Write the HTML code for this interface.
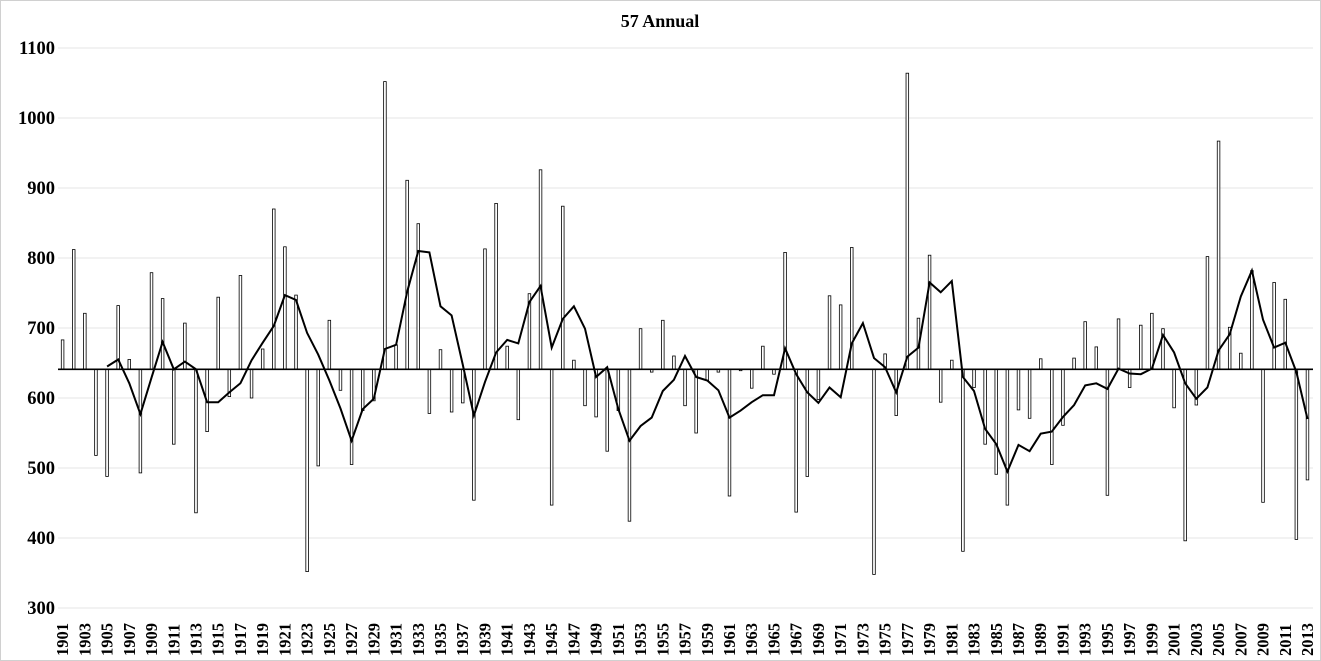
<!DOCTYPE html>
<html><head><meta charset="utf-8"><style>
body{margin:0;background:#fff}
svg{display:block}
text{font-family:"Liberation Serif",serif;font-weight:bold;fill:#000}
</style></head><body>
<svg id="s" width="1321" height="661" xmlns="http://www.w3.org/2000/svg"></svg>
<script>
const bars=[683,812,721,518,488,732,655,493,779,742,534,707,436,552,744,602,775,600,670,870,816,747,352,503,711,611,505,582,596,1052,676,911,849,578,669,
580,593,454,813,878,674,569,749,926,447,874,654,589,573,524,582,424,699,637,711,660,589,550,625,637,460,639,614,674,634,808,437,488,598,746,733,815,641,348,663,
575,1064,714,804,594,654,381,615,534,491,447,583,571,656,505,561,657,709,673,461,713,615,704,721,699,586,396,590,802,967,701,664,782,451,765,741,398,483];
const line={1905:645,1906:655,1907:621,1908:577,1909:629,1910:680,1911:641,1912:652,1913:641,1914:594,1915:594,1916:608,1917:621,1918:654,1919:679,1920:703,1921:747,1922:740,1923:693,1924:662,1925:625,1926:585,1927:539,1928:584,1929:599,1930:670,1931:676,1932:752,1933:810,1934:808,1935:731,
1936:718,1937:648,1938:575,1939:623,1940:665,1941:683,1942:678,1943:737,1944:760,1945:672,1946:713,1947:731,1948:699,1949:630,1950:644,1951:584,1952:539,1953:560,1954:572,1955:610,1956:626,1957:660,1958:630,1959:625,1960:611,1961:572,1962:582,1963:594,1964:604,1965:604,1966:671,1967:634,1968:608,1969:593,1970:615,1971:601,1972:678,1973:707,1974:657,1975:644,
1976:608,1977:659,1978:672,1979:765,1980:751,1981:767,1982:630,1983:610,1984:556,1985:534,1986:495,1987:533,1988:524,1989:549,1990:552,1991:573,1992:590,1993:618,1994:621,1995:613,1996:642,1997:635,1998:634,1999:642,2000:690,2001:665,2002:621,2003:599,2004:615,2005:668,2006:691,2007:745,2008:782,2009:712,2010:672,2011:679,2012:637,2013:570};
const Y=v=>48+(1100-v)*0.7, X=i=>62.6+i*11.115, base=641;
let h='<rect x="0.5" y="0.5" width="1320" height="660" fill="#fff" stroke="#d0d0d0"/>';
h+='<text x="660" y="27" font-size="18" text-anchor="middle">57 Annual</text>';
for(let v=300;v<=1100;v+=100){const y=Y(v);h+=`<line x1="58" x2="1313" y1="${y}" y2="${y}" stroke="#e6e6e6" stroke-width="1"/>`;h+=`<text x="55" y="${y+6}" font-size="18.5" text-anchor="end">${v}</text>`;}
bars.forEach((v,i)=>{const x=X(i),y1=Y(Math.max(v,base)),y2=Y(Math.min(v,base));h+=`<rect x="${x-1.3}" y="${y1}" width="2.6" height="${y2-y1}" fill="#fff" stroke="#000" stroke-width="0.8"/>`;});
h+=`<line x1="58" x2="1313" y1="${Y(base)}" y2="${Y(base)}" stroke="#000" stroke-width="1.6"/>`;
let p=[];for(let yr=1905;yr<=2013;yr++)p.push(X(yr-1901).toFixed(1)+','+Y(line[yr]).toFixed(1));
h+=`<polyline points="${p.join(' ')}" fill="none" stroke="#000" stroke-width="2"/>`;
for(let yr=1901;yr<=2013;yr+=2){const x=X(yr-1901)+5.5;h+=`<text transform="translate(${x},656) rotate(-90)" font-size="16.5">${yr}</text>`;}
document.getElementById('s').innerHTML=h;
</script>
</body></html>
